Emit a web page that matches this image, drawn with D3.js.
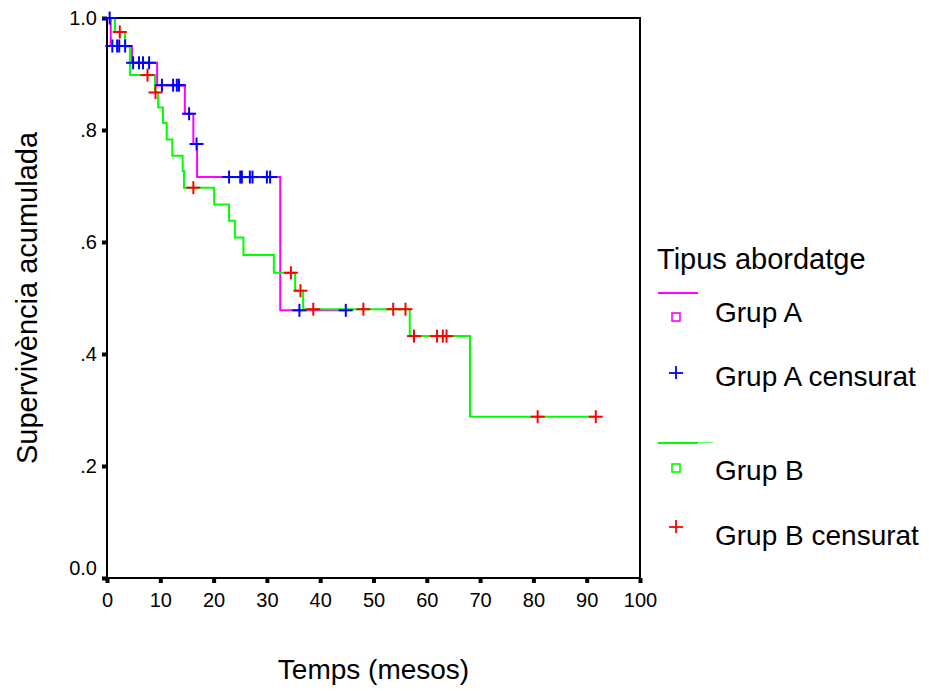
<!DOCTYPE html>
<html><head><meta charset="utf-8">
<script src="https://cdn.jsdelivr.net/npm/d3@7"></script>
<style>body{margin:0;background:#fff}svg{display:block}text{font-family:"Liberation Sans",Arial,sans-serif;fill:#000}</style>
</head><body><svg id="c" width="929" height="691"></svg>
<script>
// Group A (Kaplan-Meier steps)
const groupATimes = [0, 0.7, 4.7, 9.4, 14.6, 16.2, 16.9, 32.5];
const groupASurv  = [1.0, 0.950, 0.920, 0.880, 0.829, 0.775, 0.716, 0.478];
const groupAEnd = 44.8;
const groupACensTimes = [0.5, 1.0, 1.9, 2.3, 3.4, 4.9, 6.0, 6.75, 7.9, 10.3, 12.4, 13.1, 13.5, 15.4, 16.8, 22.9, 25.0, 25.3, 26.8, 27.3, 30.0, 30.6, 36.1, 44.8];
const groupACensSurv  = [1.0, 0.950, 0.950, 0.950, 0.950, 0.920, 0.920, 0.920, 0.920, 0.880, 0.880, 0.880, 0.880, 0.829, 0.775, 0.716, 0.716, 0.716, 0.716, 0.716, 0.716, 0.716, 0.478, 0.478];
// Group B
const groupBTimes = [0, 1.5, 3.4, 4.3, 9.0, 9.6, 10.5, 11.2, 12.25, 14.2, 14.45, 20.1, 22.9, 24.0, 25.6, 31.3, 35.3, 36.8, 56.8, 68.1];
const groupBSurv  = [1.0, 0.975, 0.949, 0.898, 0.867, 0.840, 0.813, 0.783, 0.754, 0.727, 0.697, 0.667, 0.638, 0.608, 0.577, 0.545, 0.513, 0.480, 0.432, 0.288];
const groupBEnd = 91.7;
const groupBCensTimes = [2.4, 7.6, 9.1, 16.2, 34.5, 36.3, 38.7, 48.1, 53.7, 56.0, 57.6, 61.9, 63.0, 63.7, 80.8, 91.7];
const groupBCensSurv  = [0.975, 0.898, 0.867, 0.697, 0.545, 0.513, 0.480, 0.480, 0.480, 0.480, 0.432, 0.432, 0.432, 0.432, 0.288, 0.288];

const xTicks = [0,10,20,30,40,50,60,70,80,90,100];
const yTicks = [0,0.2,0.4,0.6,0.8,1.0];
const yTickLabels = ["0.0",".2",".4",".6",".8","1.0"];
const legendTitle = "Tipus abordatge";
const legendLabels = ["Grup A","Grup A censurat","Grup B","Grup B censurat"];

const svg = d3.select("#c");
const L=107, R=640, T=18, B=578;
const x = d3.scaleLinear().domain([0,100]).range([L,R]);
const y = d3.scaleLinear().domain([0,1]).range([B,T]);

// frame
svg.append("rect").attr("x",L).attr("y",T).attr("width",R-L).attr("height",B-T)
  .attr("fill","none").attr("stroke","#000").attr("stroke-width",2);

// axes
const yAxis = d3.axisLeft(y).tickValues(yTicks).tickSize(5).tickPadding(5)
  .tickFormat((d,i)=>yTickLabels[i]);
const gy = svg.append("g").attr("transform",`translate(${L},0)`).call(yAxis);
gy.select(".domain").remove();
gy.selectAll(".tick line").attr("stroke","#000").attr("stroke-width",4);
gy.selectAll(".tick text").attr("font-size",20).attr("font-family","Liberation Sans, Arial");
gy.selectAll(".tick text").filter(d=>d===0).attr("dy","-0.18em");

const xAxis = d3.axisBottom(x).tickValues(xTicks).tickSize(5).tickPadding(10);
const gx = svg.append("g").attr("transform",`translate(0,${B})`).call(xAxis);
gx.select(".domain").remove();
gx.selectAll(".tick line").attr("stroke","#000").attr("stroke-width",4);
gx.selectAll(".tick text").attr("font-size",20).attr("font-family","Liberation Sans, Arial");

// titles
svg.append("text").attr("x",(L+R)/2).attr("y",669).attr("text-anchor","middle")
  .attr("dominant-baseline","central").attr("font-size",28).text("Temps (mesos)");
svg.append("text").attr("transform",`translate(27,${(T+B)/2}) rotate(-90)`).attr("text-anchor","middle")
  .attr("dominant-baseline","central").attr("font-size",29).text("Supervivència acumulada");

// curves
const line = d3.line().x(d=>x(d[0])).y(d=>y(d[1])).curve(d3.curveStepAfter);
function pts(times, surv, end){ const p = times.map((t,i)=>[t,surv[i]]); p.push([end, surv[surv.length-1]]); return p; }
svg.append("path").datum(pts(groupATimes,groupASurv,groupAEnd)).attr("d",line)
  .attr("fill","none").attr("stroke","#ff00ff").attr("stroke-width",2);
svg.append("path").datum(pts(groupBTimes,groupBSurv,groupBEnd)).attr("d",line)
  .attr("fill","none").attr("stroke","#00ff00").attr("stroke-width",2);

function crosses(times, surv, color){
  const g = svg.append("g").attr("stroke",color).attr("stroke-width",2);
  times.forEach((t,i)=>{
    const cx=x(t), cy=y(surv[i]);
    g.append("line").attr("x1",cx-7).attr("x2",cx+7).attr("y1",cy).attr("y2",cy);
    g.append("line").attr("x1",cx).attr("x2",cx).attr("y1",cy-6.5).attr("y2",cy+6.5);
  });
}
crosses(groupACensTimes, groupACensSurv, "#0000ff");
crosses(groupBCensTimes, groupBCensSurv, "#ff0000");

// legend
const lg = svg.append("g");
lg.append("text").attr("x",657).attr("y",259).attr("dominant-baseline","central").attr("font-size",29).text(legendTitle);
const legY = [312,376,470,535];
lg.append("line").attr("x1",658).attr("x2",698).attr("y1",293).attr("y2",293).attr("stroke","#ff00ff").attr("stroke-width",2);
lg.append("rect").attr("x",672).attr("y",313).attr("width",8).attr("height",8).attr("fill","#fff").attr("stroke","#ff00ff").attr("stroke-width",1.6);
lg.append("line").attr("x1",669).attr("x2",683).attr("y1",373).attr("y2",373).attr("stroke","#0000ff").attr("stroke-width",1.8);
lg.append("line").attr("x1",676).attr("x2",676).attr("y1",366).attr("y2",379).attr("stroke","#0000ff").attr("stroke-width",1.8);
lg.append("line").attr("x1",658).attr("x2",698).attr("y1",443).attr("y2",443).attr("stroke","#00ff00").attr("stroke-width",2);
lg.append("line").attr("x1",698).attr("x2",713).attr("y1",442.5).attr("y2",442.5).attr("stroke","#66ff66").attr("stroke-width",1);
lg.append("rect").attr("x",672).attr("y",464).attr("width",8).attr("height",8).attr("fill","#fff").attr("stroke","#00ff00").attr("stroke-width",1.6);
lg.append("line").attr("x1",669).attr("x2",683).attr("y1",527).attr("y2",527).attr("stroke","#ff0000").attr("stroke-width",1.8);
lg.append("line").attr("x1",676).attr("x2",676).attr("y1",520).attr("y2",533).attr("stroke","#ff0000").attr("stroke-width",1.8);
legendLabels.forEach((t,i)=>{
  lg.append("text").attr("x",715).attr("y",legY[i]).attr("dominant-baseline","central").attr("font-size",28).text(t);
});
</script></body></html>
